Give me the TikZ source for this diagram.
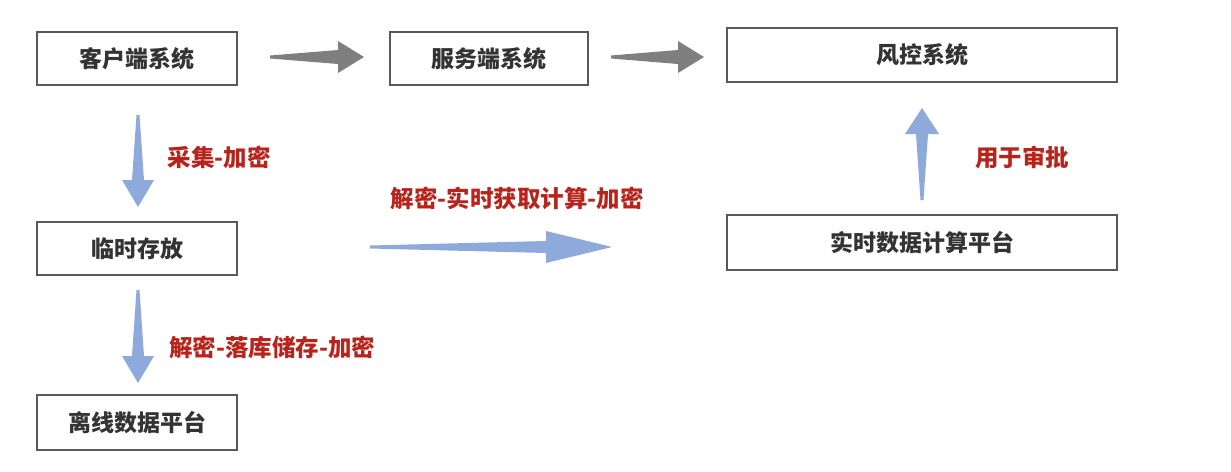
\documentclass[tikz,border=0pt]{standalone}
\usepackage{fontspec}
\newfontfamily\cjk{Noto Sans CJK SC}
\definecolor{boxline}{HTML}{595959}
\definecolor{boxtext}{HTML}{333333}
\definecolor{arrgray}{HTML}{7F7F7F}
\definecolor{arrblue}{HTML}{8EAADB}
\definecolor{lblred}{HTML}{B8241C}
\newcommand{\fatarrow}[8]{% style, x, y, rotate, length, headlen, headhalf, shafthalf
  \begin{scope}[shift={(#2,#3)}, rotate=#4]
    \fill[#1] (0,-1.5) -- ({#5-#6},-#8) -- ({#5-#6},-#7) -- (#5,0) -- ({#5-#6},#7) -- ({#5-#6},#8) -- (0,1.5) -- cycle;
  \end{scope}}
\begin{document}
\begin{tikzpicture}[x=1pt,y=-1pt,
  sysbox/.style={draw=boxline, line width=1.3pt, fill=white, inner sep=0pt, font=\cjk\bfseries\fontsize{23}{26}\selectfont, text=boxtext},
  lbl/.style={font=\cjk\bfseries\fontsize{23.5}{26}\selectfont, text=lblred, inner sep=0pt}]
\useasboundingbox (0,0) rectangle (1231,471);
\fill[white] (0,0) rectangle (1231,471);

\node[sysbox, minimum width=200pt, minimum height=53pt] (client) at (137,58.5) {客户端系统};
\node[sysbox, minimum width=198pt, minimum height=53pt] (server) at (489,58.5) {服务端系统};
\node[sysbox, minimum width=390pt, minimum height=54pt] (risk) at (922,55) {风控系统};
\node[sysbox, minimum width=200pt, minimum height=53pt] (temp) at (137,248.5) {临时存放};
\node[sysbox, minimum width=390pt, minimum height=55pt] (rt) at (922,242.5) {实时数据计算平台};
\node[sysbox, minimum width=200pt, minimum height=55pt] (offline) at (137,422.5) {离线数据平台};

\fatarrow{arrgray}{270}{57}{0}{94}{26}{16}{7}
\fatarrow{arrgray}{611}{57}{0}{93}{26}{16}{7}
\fatarrow{arrblue}{138}{115}{-90}{92}{27}{16}{6}
\fatarrow{arrblue}{138}{290}{-90}{93}{27}{16}{6}
\fatarrow{arrblue}{370}{247}{0}{242}{66}{16}{6}
\fatarrow{arrblue}{922}{200}{90}{92}{26}{17}{6}

\node[lbl] (l1) at (219,157) {采集-加密};
\node[lbl] (l2) at (272,347) {解密-落库储存-加密};
\node[lbl] (l3) at (517,198) {解密-实时获取计算-加密};
\node[lbl] (l4) at (1022,157) {用于审批};
\end{tikzpicture}
\end{document}
